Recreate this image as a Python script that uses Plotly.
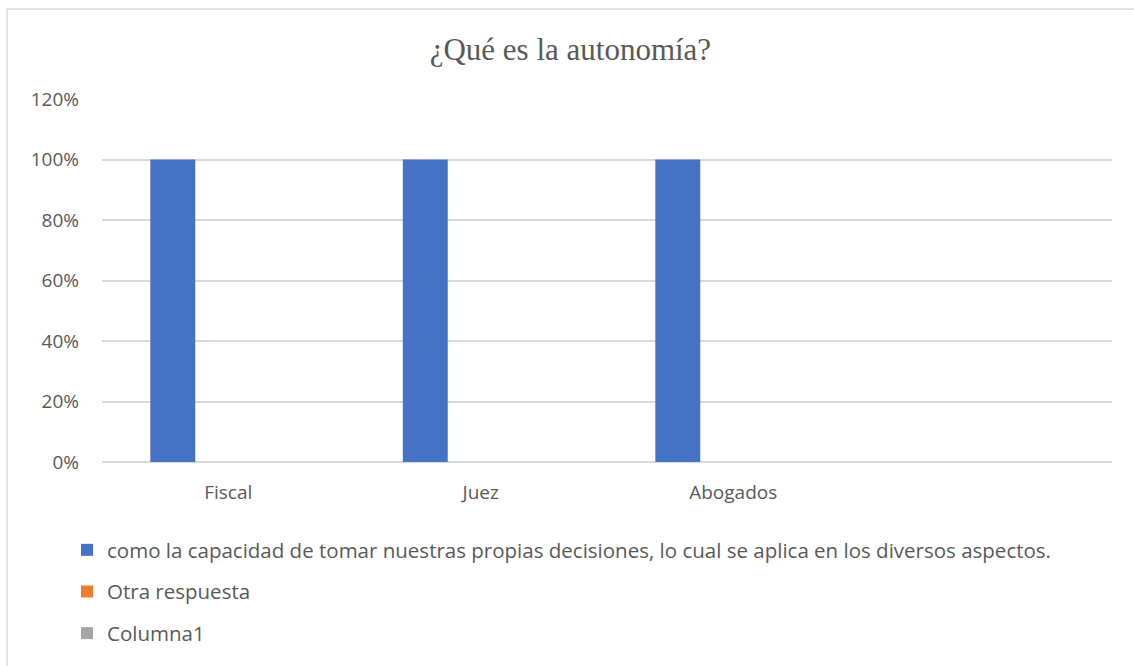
import plotly.graph_objects as go

categories = ["Fiscal", "Juez", "Abogados"]
series_names = [
    "como la capacidad de tomar nuestras propias decisiones, lo cual se aplica en los diversos aspectos.",
    "Otra respuesta",
    "Columna1",
]
values_capacidad = [1.0, 1.0, 1.0]
values_otra = [0.0, 0.0, 0.0]
values_columna1 = [0.0, 0.0, 0.0]
colors = ["#4472C4", "#ED7D31", "#A5A5A5"]
y_ticks = [0, 0.2, 0.4, 0.6, 0.8, 1.0, 1.2]

W, H = 1134, 666
L, R, T, B = 102, 22, 99, 204
PW, PH = W - L - R, H - T - B

def px(x):
    return (x - L) / PW

def py(y):
    return (H - B - y) / PH

fig = go.Figure()
for i, (name, vals) in enumerate(zip(series_names, [values_capacidad, values_otra, values_columna1])):
    fig.add_trace(go.Bar(x=categories, y=vals, name=name, marker_color=colors[i],
                         marker_line_width=0, legendgroup=str(i)))

font_main = "Open Sans, Noto Sans, sans-serif"
fig.update_layout(
    width=W, height=H,
    margin=dict(l=L, r=R, t=T, b=B, autoexpand=False),
    paper_bgcolor="white", plot_bgcolor="white",
    barmode="group", bargap=0.341, bargroupgap=0.19,
    title=dict(text="¿Qué es la autonomía?", x=0.503, xanchor="center", y=1 - 49 / H, yanchor="middle",
               font=dict(family="Liberation Serif, Times New Roman, serif", size=31, color="#595959")),
    xaxis=dict(type="category", categoryarray=categories, range=[-0.5, 3.5],
               showgrid=False, showline=False, ticks="", zeroline=False, ticklabelstandoff=17,
               tickfont=dict(family=font_main, size=19, color="#595959")),
    yaxis=dict(range=[0, 1.2], tickvals=y_ticks, tickformat=".0%",
               showgrid=True, gridcolor="#D9D9D9", gridwidth=1.5,
               zeroline=True, zerolinecolor="#D9D9D9", zerolinewidth=1.5,
               showline=False, ticks="", ticklabelstandoff=22,
               tickfont=dict(family=font_main, size=19, color="#595959")),
    legend=dict(orientation="v", x=px(67), xanchor="left",
                y=py(530), yanchor="top",
                tracegroupgap=12,
                font=dict(family=font_main, size=20.5, color="#595959"),
                itemwidth=30, bgcolor="rgba(0,0,0,0)"),
    shapes=[dict(type="rect", xref="paper", yref="paper",
                 x0=px(7), x1=px(1150), y0=py(700), y1=py(9),
                 line=dict(color="#D9D9D9", width=1.5), fillcolor="rgba(0,0,0,0)", layer="below")],
)

fig.write_html("out.html", config={"displayModeBar": False},
               post_script="document.body.style.margin='0';")
